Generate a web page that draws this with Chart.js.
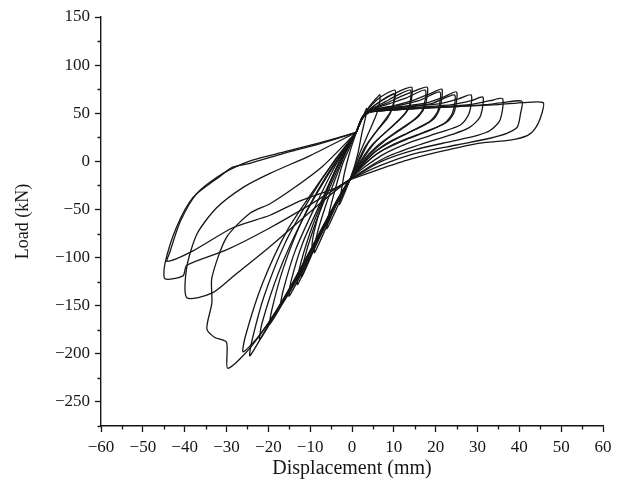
<!DOCTYPE html>
<html>
<head>
<meta charset="utf-8">
<script src="https://cdn.jsdelivr.net/npm/chart.js@4/dist/chart.umd.min.js"></script>
<style>
  html, body { margin: 0; padding: 0; background: #fff; }
  #wrap { width: 630px; height: 492px; }
</style>
</head>
<body>
<div id="wrap"><canvas id="hyst" width="630" height="492"></canvas></div>
<script>
// load-displacement cycles, [displacement (mm), load (kN)]
const cycle1 = [[1,30],[2,42],[3,50],[3.5,55],[3.2,45],[2.4,30],[1.5,10],[0.6,-5],[-0.5,-19],[-1.5,-30],[-3,-45],[-2.6,-32],[-1.8,-12],[-0.5,10],[1,30]]
const cycle2 = [[1,30],[2.5,45],[4,56],[5.5,64],[6.7,69],[6.3,55],[5.5,45],[4,30],[2,10],[0.5,-8],[-0.5,-19],[-2,-33],[-4,-52],[-6,-70],[-5.6,-56],[-4.2,-32],[-2.2,-2],[-0.2,18],[1,30]]
const cycle3 = [[1,30],[2.5,46],[4,55],[6,64],[8,70],[10.3,74],[10,60],[9,50],[7,38],[4,20],[2,3],[-0.5,-19],[-3,-38],[-6,-67],[-9,-95],[-8.6,-80],[-6.6,-50],[-3.8,-16],[-1.2,12],[1,30]]
const cycle3b = [[1,30],[2.5,45],[4.5,55],[7,63],[10,70],[9.6,55],[8.5,45],[6,32],[3,14],[-0.5,-19],[-3.5,-40],[-6.5,-65],[-9.5,-88],[-9,-72],[-7,-42],[-4,-10],[-1,15],[1,30]]
const cycle4 = [[1,30],[2.5,46],[4.5,55],[7,63],[10,70],[12.5,75],[14.3,77],[14,60],[12.5,49],[10,38],[6,22],[3,5],[-0.5,-19],[-3,-39],[-8,-81],[-12,-120],[-11.6,-105],[-9.2,-70],[-5.6,-30],[-2,5],[1,30]]
const cycle4b = [[1,30],[2.5,45],[5,55],[8,62],[11,69],[14,74],[13.6,56],[12,46],[9,34],[5,18],[2,0],[-0.5,-19],[-4,-45],[-8.5,-85],[-13,-128],[-12.6,-112],[-10,-74],[-6.3,-33],[-2.5,4],[1,30]]
const cycle5 = [[1,30],[2.5,46],[4.5,54],[8,60],[12,68],[15.5,74],[18,77],[17.5,58],[16,47],[13,37],[8,22],[4,6],[-0.5,-19],[-3.5,-42],[-9,-90],[-15,-140],[-14.6,-125],[-11.8,-85],[-7.2,-40],[-3,0],[1,30]]
const cycle5b = [[1,30],[2.5,45],[5,54],[9,60],[13,66],[17.5,74],[17,55],[15,44],[11,32],[6,16],[2.5,0],[-0.5,-19],[-4,-46],[-10,-98],[-17,-150],[-16.5,-135],[-13.5,-92],[-8.6,-45],[-3.8,-3],[1,30]]
const cycle6 = [[1,30],[2.5,46],[4.5,53],[10,58],[15,64],[19,71],[21.5,75],[21,55],[19.5,44],[16,35],[10,22],[5,8],[-0.5,-19],[-4,-46],[-12,-112],[-19.6,-169],[-19.2,-155],[-16.5,-112],[-12,-62],[-6.5,-18],[-1.5,15],[1,30]]
const cycle6b = [[1,30],[2.5,45],[5,53],[11,58],[16,63],[21,72],[20.5,52],[18.5,41],[14,31],[8,18],[3.5,2],[-0.5,-19],[-4.5,-48],[-13,-118],[-22,-185],[-21.5,-168],[-17.5,-115],[-12,-62],[-6,-16],[1,30]]
const cycle7 = [[1,30],[2.5,46],[4.5,53],[12,57],[18,61],[22,67],[25,72],[24.5,52],[23,42],[19,33],[12,21],[6,8],[-0.5,-19],[-4.5,-50],[-14,-125],[-20,-170],[-24.4,-202],[-24,-188],[-21,-140],[-16,-85],[-10,-38],[-4,2],[1,30]]
const cycle7b = [[1,30],[2.5,45],[5,53],[13,57],[19,60],[24.5,69],[24,50],[22,39],[17,30],[10,18],[4.5,3],[-0.5,-19],[-5,-52],[-15,-135],[-22,-180],[-26,-198],[-25.5,-182],[-21.5,-128],[-15.5,-72],[-8.5,-26],[-2.5,10],[1,30]]
const cycle8 = [[1,30],[2.5,46],[4.5,53],[14,57],[21,60],[25.5,65],[28.5,69],[28,50],[26,38],[21,30],[14,20],[7,6],[-0.5,-19],[-5,-52],[-16,-140],[-24,-192],[-29.7,-215],[-30,-188],[-32.8,-183],[-34.7,-174],[-33.5,-147],[-33.5,-121],[-30,-79],[-24.4,-54],[-19.6,-44],[-14,-28],[-7,-5],[1,30]]
const cycle9 = [[1,30],[2.5,45],[4.5,52],[15,56],[24,59],[28.5,63],[31.3,66.7],[30.6,46],[28,35],[24,28],[16,17],[8,4],[-0.5,-19],[-8,-45],[-20,-90],[-28,-118],[-33.5,-137],[-39.5,-141.7],[-39.5,-110],[-37,-75],[-32.3,-48],[-26,-27],[-19.6,-12.5],[-10,6],[1,30]]
const cycle10 = [[1,30],[2.5,45],[4,51],[15,55],[28,59],[33,63],[36,65],[35.4,43],[33,32],[30,27],[24,21],[15,12],[7,0],[-0.5,-19],[-10,-45],[-20,-70],[-30,-92],[-39.5,-108],[-40.4,-119],[-44.7,-122],[-44.7,-106],[-42,-69],[-38,-37.5],[-32,-17],[-28.5,-6],[-24.4,-2],[-16.5,8],[-8,18],[1,30]]
const cycle11 = [[1,30],[2.5,45],[4,51],[12,54],[25,57],[32,59],[36,61],[40.6,62.5],[40.3,50],[39.5,35.5],[37,29],[33,24],[25,17],[15,8],[7,-4],[-0.5,-19],[-3.6,-27],[-12.4,-41],[-19.6,-56],[-28.5,-69],[-38,-93],[-44.2,-104],[-43.6,-95],[-41,-62],[-37,-33],[-31,-13],[-24,1],[-16,10],[-8,19],[1,30]]
const cycle12 = [[1,30],[2.5,45],[4,51],[12,54],[25,57],[35,59],[41,61],[45.7,61],[45.4,50],[44,35.5],[42,27],[37.8,22],[30.6,19],[21,10],[13,1],[6,-9],[-0.5,-19]]

const cycles = [cycle1, cycle2, cycle3, cycle3b, cycle4, cycle4b, cycle5, cycle5b, cycle6, cycle6b,
    cycle7, cycle7b, cycle8, cycle9, cycle10, cycle11, cycle12]

const xTicks = [-60, -50, -40, -30, -20, -10, 0, 10, 20, 30, 40, 50, 60]
const yTicks = [-250, -200, -150, -100, -50, 0, 50, 100, 150]

const serif = "'Liberation Serif', 'DejaVu Serif', serif"
const ink = '#161616'

function minus(v) {
    return v < 0 ? '\u2212' + Math.abs(v) : String(v)
}

// short minor ticks between the labelled ones
const minorTicks = {
    id: 'minorTicks',
    afterDraw(chart) {
        const ctx = chart.ctx
        const xs = chart.scales.x
        const ys = chart.scales.y
        ctx.save()
        ctx.strokeStyle = ink
        ctx.lineWidth = 1.3
        ctx.beginPath()
        for (let v = -55; v <= 55; v += 10) {
            const px = Math.round(xs.getPixelForValue(v)) + 0.5
            ctx.moveTo(px, ys.bottom)
            ctx.lineTo(px, ys.bottom + 3.5)
        }
        for (let v = -275; v <= 125; v += 50) {
            const py = Math.round(ys.getPixelForValue(v)) + 0.5
            ctx.moveTo(xs.left, py)
            ctx.lineTo(xs.left - 3.5, py)
        }
        ctx.stroke()
        ctx.restore()
    }
}

const ctx = document.getElementById('hyst').getContext('2d')
const chart = new Chart(ctx, {
    type: 'scatter',
    data: {
        datasets: cycles.map((c) => ({
            data: c.map((p) => ({ x: p[0], y: p[1] })),
            showLine: true,
            borderColor: ink,
            borderWidth: 1.3,
            pointRadius: 0,
            tension: 0.25,
            fill: false
        }))
    },
    options: {
        responsive: false,
        animation: false,
        layout: { padding: { left: 0, right: 27, top: 17, bottom: 0 } },
        plugins: {
            legend: { display: false },
            tooltip: { enabled: false }
        },
        scales: {
            x: {
                type: 'linear',
                min: -60,
                max: 60,
                afterFit: (s) => { s.height = 66 },
                afterBuildTicks: (s) => { s.ticks = xTicks.map((v) => ({ value: v })) },
                border: { display: true, color: ink, width: 1.4 },
                grid: { display: true, drawOnChartArea: false, drawTicks: true, tickLength: 6, tickColor: ink, tickWidth: 1.3 },
                ticks: {
                    padding: 5,
                    color: ink,
                    font: { family: serif, size: 17 },
                    maxRotation: 0,
                    callback: (v) => minus(v)
                },
                title: {
                    display: true,
                    text: 'Displacement (mm)',
                    color: ink,
                    font: { family: serif, size: 20 },
                    padding: { top: 0, bottom: 11 }
                }
            },
            y: {
                type: 'linear',
                min: -275,
                max: 150,
                afterFit: (s) => { s.width = 101 },
                afterBuildTicks: (s) => { s.ticks = yTicks.map((v) => ({ value: v })) },
                border: { display: true, color: ink, width: 1.4 },
                grid: { display: true, drawOnChartArea: false, drawTicks: true, tickLength: 6, tickColor: ink, tickWidth: 1.3 },
                ticks: {
                    padding: 5,
                    color: ink,
                    font: { family: serif, size: 17 },
                    callback: (v) => minus(v)
                },
                title: {
                    display: true,
                    text: 'Load (kN)',
                    color: ink,
                    font: { family: serif, size: 18 },
                    padding: { top: 12, bottom: 0 }
                }
            }
        }
    },
    plugins: [minorTicks]
})
</script>
</body>
</html>
